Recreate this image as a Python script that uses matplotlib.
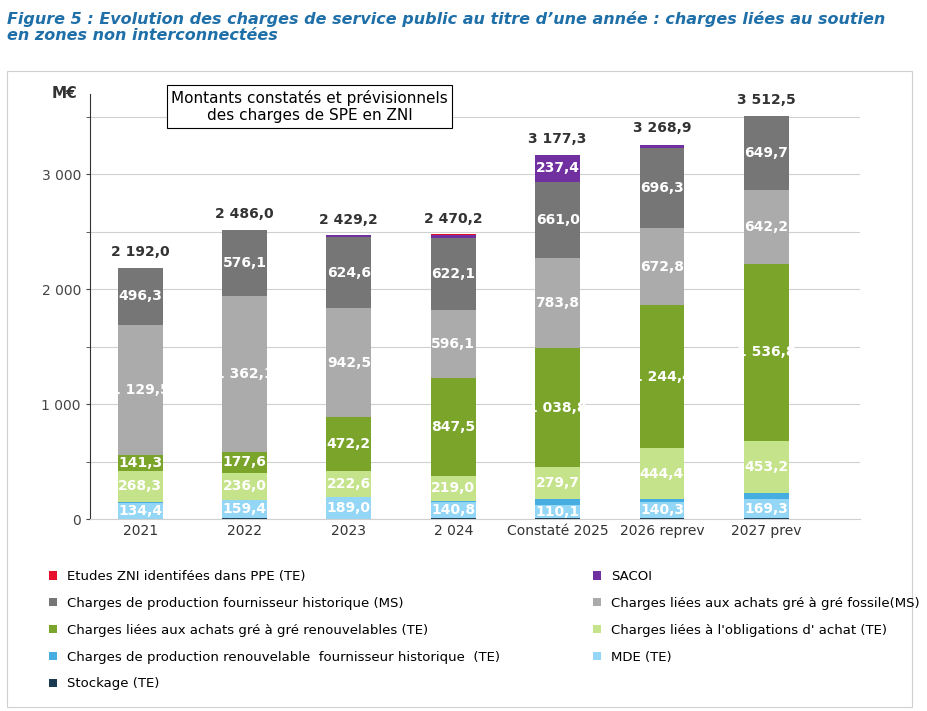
import matplotlib.pyplot as plt
import numpy as np
from matplotlib.patches import Rectangle

plt.rcParams['font.family'] = ['Liberation Sans Narrow', 'DejaVu Sans']

years = ["2021", "2022", "2023", "2 024", "Constaté 2025", "2026 reprev", "2027 prev"]
totals = ["2 192,0", "2 486,0", "2 429,2", "2 470,2", "3 177,3", "3 268,9", "3 512,5"]
total_vals = [2192.0, 2486.0, 2429.2, 2470.2, 3177.3, 3268.9, 3512.5]

stockage = [3, 5, 3, 10, 10, 5, 5]
mde = [134.4, 159.4, 189.0, 140.8, 110.1, 140.3, 169.3]
ren_fh = [12, 3, 3, 6, 50, 25, 55]
obligations = [268.3, 236.0, 222.6, 219.0, 279.7, 444.4, 453.2]
ren_gag = [141.3, 177.6, 472.2, 847.5, 1038.8, 1244.4, 1536.8]
fossile = [1129.5, 1362.1, 942.5, 596.1, 783.8, 672.8, 642.2]
prod_fh = [496.3, 576.1, 624.6, 622.1, 661.0, 696.3, 649.7]
sacoi = [0, 0, 15, 30, 237.4, 30, 0]
etudes = [0, 0, 0, 12, 0, 0, 0]

series = [
    ("Stockage (TE)", stockage, "#1a3a52", False),
    ("MDE (TE)", mde, "#93d6f5", True),
    ("Charges de production renouvelable  fournisseur historique  (TE)", ren_fh, "#45ade0", False),
    ("Charges liées à l'obligations d' achat (TE)", obligations, "#c5e38b", True),
    ("Charges liées aux achats gré à gré renouvelables (TE)", ren_gag, "#7aa42a", True),
    ("Charges liées aux achats gré à gré fossile(MS)", fossile, "#ababab", True),
    ("Charges de production fournisseur historique (MS)", prod_fh, "#767676", True),
    ("SACOI", sacoi, "#7030a0", True),
    ("Etudes ZNI identifées dans PPE (TE)", etudes, "#e8112d", False),
]

def fmt(v):
    return f"{v:,.1f}".replace(",", " ").replace(".", ",")

fig = plt.figure(figsize=(9.28, 7.11), dpi=100)
fig.text(0.008, 0.985, "Figure 5 : Evolution des charges de service public au titre d’une année : charges liées au soutien\nen zones non interconnectées",
         color="#1f6fa8", fontsize=11.5, fontweight="bold", fontstyle="italic", va="top", linespacing=1.1,
         family=["DejaVu Sans"])
fig.patches.append(Rectangle((0.008, 0.005), 0.975, 0.895, transform=fig.transFigure,
                             fill=False, edgecolor="#d0d0d0", lw=0.8))

ax = fig.add_axes([0.097, 0.27, 0.83, 0.598])
x = np.arange(len(years))
bottom = np.zeros(len(years))
for name, vals, col, lab in series:
    vals = np.array(vals, dtype=float)
    ax.bar(x, vals, 0.43, bottom=bottom, color=col, label=name)
    if lab:
        for xi, b, v in zip(x, bottom, vals):
            if v >= 100:
                ax.text(xi, b + v / 2, fmt(v), ha="center", va="center", color="white",
                        fontsize=10, fontweight="bold")
    bottom += vals
for xi, t, tv in zip(x, totals, total_vals):
    ax.text(xi, max(tv, bottom[xi]) + 70, t, ha="center", va="bottom", fontsize=10, fontweight="bold", color="#333333")

ax.set_ylim(0, 3700)
ax.set_xlim(-0.48, 6.9)
ax.set_yticks([0, 1000, 2000, 3000])
ax.set_yticklabels(["0", "1 000", "2 000", "3 000"], fontsize=10, color="#444444")
ax.set_yticks(np.arange(0, 3700, 500), minor=True)
ax.yaxis.grid(True, which="both", color="#d0d0d0", lw=0.8)
ax.set_axisbelow(True)
ax.set_xticks(x)
ax.set_xticklabels(years, fontsize=10, color="#333333")
ax.tick_params(axis="x", length=0)
ax.tick_params(axis="y", which="both", length=3, color="#444444")
for s in ["top", "right"]:
    ax.spines[s].set_visible(False)
ax.spines["bottom"].set_color("#d0d0d0")
ax.spines["left"].set_color("#333333")
ax.text(-0.05, 0.99, "M€", transform=ax.transAxes, fontsize=11, fontweight="bold", color="#333333")
ax.text(0.285, 0.97, "Montants constatés et prévisionnels\ndes charges de SPE en ZNI", transform=ax.transAxes,
        ha="center", va="center", fontsize=11,
        bbox=dict(boxstyle="square,pad=0.3", fc="white", ec="black", lw=0.8))

handles, labels = ax.get_legend_handles_labels()
order = [8, 6, 4, 2, 0, 7, 5, 3, 1]
fig.legend([handles[i] for i in order], [labels[i] for i in order], loc="upper left",
           bbox_to_anchor=(0.04, 0.215), ncol=2, frameon=False, fontsize=9.5,
           handlelength=0.6, handleheight=0.6, columnspacing=7, labelspacing=1.05)

fig.savefig("out.png", dpi=100)
